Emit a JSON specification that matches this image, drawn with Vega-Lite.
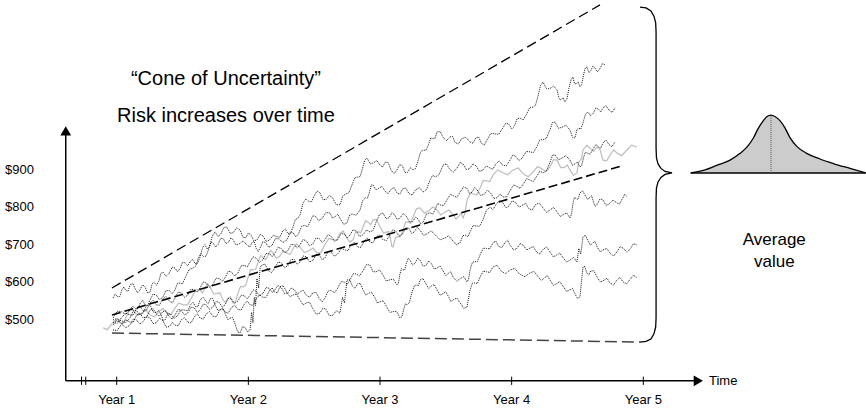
{
"$schema": "https://vega.github.io/schema/vega-lite/v6.json",
"width": 866, "height": 408, "padding": 0, "autosize": {"type": "none"},
"background": "white",
"config": {"view": {"stroke": null}, "text": {"font": "Liberation Sans", "color": "#000"}},
"datasets": {
"paths": [
{"p":"A","x":0.972,"y":558},{"p":"A","x":1.006,"y":562},{"p":"A","x":1.040,"y":580},{"p":"A","x":1.070,"y":578},{"p":"A","x":1.101,"y":593},{"p":"A","x":1.140,"y":583},{"p":"A","x":1.177,"y":580},{"p":"A","x":1.215,"y":588},{"p":"A","x":1.253,"y":574},{"p":"A","x":1.285,"y":600},{"p":"A","x":1.320,"y":603},{"p":"A","x":1.352,"y":627},{"p":"A","x":1.398,"y":624},{"p":"A","x":1.443,"y":638},{"p":"A","x":1.480,"y":636},{"p":"A","x":1.520,"y":652},{"p":"A","x":1.557,"y":654},{"p":"A","x":1.595,"y":650},{"p":"A","x":1.633,"y":667},{"p":"A","x":1.670,"y":700},{"p":"A","x":1.705,"y":695},{"p":"A","x":1.747,"y":734},{"p":"A","x":1.790,"y":728},{"p":"A","x":1.838,"y":747},{"p":"A","x":1.885,"y":732},{"p":"A","x":1.937,"y":739},{"p":"A","x":1.980,"y":718},{"p":"A","x":2.020,"y":726},{"p":"A","x":2.066,"y":713},{"p":"A","x":2.110,"y":724},{"p":"A","x":2.160,"y":712},{"p":"A","x":2.218,"y":721},{"p":"A","x":2.260,"y":736},{"p":"A","x":2.300,"y":730},{"p":"A","x":2.339,"y":747},{"p":"A","x":2.375,"y":770},{"p":"A","x":2.415,"y":811},{"p":"A","x":2.460,"y":815},{"p":"A","x":2.500,"y":830},{"p":"A","x":2.544,"y":838},{"p":"A","x":2.590,"y":820},{"p":"A","x":2.640,"y":825},{"p":"A","x":2.696,"y":806},{"p":"A","x":2.740,"y":835},{"p":"A","x":2.787,"y":859},{"p":"A","x":2.830,"y":880},{"p":"A","x":2.865,"y":900},{"p":"A","x":2.901,"y":931},{"p":"A","x":2.950,"y":918},{"p":"A","x":3.000,"y":912},{"p":"A","x":3.040,"y":920},{"p":"A","x":3.085,"y":898},{"p":"A","x":3.129,"y":899},{"p":"A","x":3.170,"y":910},{"p":"A","x":3.210,"y":893},{"p":"A","x":3.251,"y":899},{"p":"A","x":3.290,"y":925},{"p":"A","x":3.327,"y":952},{"p":"A","x":3.370,"y":968},{"p":"A","x":3.400,"y":982},{"p":"A","x":3.433,"y":1000},{"p":"A","x":3.480,"y":985},{"p":"A","x":3.532,"y":987},{"p":"A","x":3.570,"y":972},{"p":"A","x":3.620,"y":982},{"p":"A","x":3.684,"y":973},{"p":"A","x":3.730,"y":985},{"p":"A","x":3.770,"y":970},{"p":"A","x":3.813,"y":979},{"p":"A","x":3.870,"y":995},{"p":"A","x":3.934,"y":1011},{"p":"A","x":3.980,"y":1020},{"p":"A","x":4.020,"y":1015},{"p":"A","x":4.063,"y":1037},{"p":"A","x":4.110,"y":1045},{"p":"A","x":4.162,"y":1066},{"p":"A","x":4.200,"y":1095},{"p":"A","x":4.238,"y":1133},{"p":"A","x":4.290,"y":1115},{"p":"A","x":4.345,"y":1112},{"p":"A","x":4.375,"y":1085},{"p":"A","x":4.405,"y":1080},{"p":"A","x":4.435,"y":1115},{"p":"A","x":4.466,"y":1146},{"p":"A","x":4.490,"y":1128},{"p":"A","x":4.519,"y":1120},{"p":"A","x":4.545,"y":1150},{"p":"A","x":4.572,"y":1173},{"p":"A","x":4.600,"y":1162},{"p":"A","x":4.633,"y":1170},{"p":"A","x":4.670,"y":1168},{"p":"A","x":4.709,"y":1178},
{"p":"A","x":0.989,"y":569},{"p":"A","x":1.023,"y":562},{"p":"A","x":1.055,"y":588},{"p":"A","x":1.086,"y":576},{"p":"A","x":1.121,"y":597},{"p":"A","x":1.159,"y":572},{"p":"A","x":1.196,"y":593},{"p":"A","x":1.234,"y":572},{"p":"A","x":1.269,"y":596},{"p":"A","x":1.303,"y":592},{"p":"A","x":1.336,"y":624},{"p":"A","x":1.375,"y":616},{"p":"A","x":1.421,"y":640},{"p":"A","x":1.462,"y":628},{"p":"A","x":1.500,"y":653},{"p":"A","x":1.539,"y":644},{"p":"A","x":1.576,"y":661},{"p":"A","x":1.614,"y":650},{"p":"A","x":1.652,"y":692},{"p":"A","x":1.688,"y":688},{"p":"A","x":1.726,"y":723},{"p":"A","x":1.769,"y":722},{"p":"A","x":1.814,"y":746},{"p":"A","x":1.862,"y":730},{"p":"A","x":1.911,"y":745},{"p":"A","x":1.959,"y":720},{"p":"A","x":2.000,"y":731},{"p":"A","x":2.043,"y":710},{"p":"A","x":2.088,"y":727},{"p":"A","x":2.135,"y":709},{"p":"A","x":2.189,"y":725},{"p":"A","x":2.239,"y":720},{"p":"A","x":2.280,"y":742},{"p":"A","x":2.320,"y":730},{"p":"A","x":2.357,"y":767},{"p":"A","x":2.395,"y":781},{"p":"A","x":2.438,"y":822},{"p":"A","x":2.480,"y":814},{"p":"A","x":2.522,"y":843},{"p":"A","x":2.567,"y":820},{"p":"A","x":2.615,"y":831},{"p":"A","x":2.668,"y":806},{"p":"A","x":2.718,"y":830},{"p":"A","x":2.764,"y":838},{"p":"A","x":2.809,"y":878},{"p":"A","x":2.848,"y":881},{"p":"A","x":2.883,"y":924},{"p":"A","x":2.926,"y":915},{"p":"A","x":2.975,"y":924},{"p":"A","x":3.020,"y":907},{"p":"A","x":3.063,"y":918},{"p":"A","x":3.107,"y":889},{"p":"A","x":3.150,"y":913},{"p":"A","x":3.190,"y":892},{"p":"A","x":3.231,"y":905},{"p":"A","x":3.271,"y":903},{"p":"A","x":3.309,"y":947},{"p":"A","x":3.349,"y":951},{"p":"A","x":3.385,"y":984},{"p":"A","x":3.417,"y":982},{"p":"A","x":3.457,"y":1001},{"p":"A","x":3.506,"y":977},{"p":"A","x":3.551,"y":988},{"p":"A","x":3.595,"y":968},{"p":"A","x":3.652,"y":986},{"p":"A","x":3.707,"y":970},{"p":"A","x":3.750,"y":986},{"p":"A","x":3.792,"y":965},{"p":"A","x":3.842,"y":996},{"p":"A","x":3.902,"y":994},{"p":"A","x":3.957,"y":1024},{"p":"A","x":4.000,"y":1008},{"p":"A","x":4.042,"y":1035},{"p":"A","x":4.087,"y":1032},{"p":"A","x":4.136,"y":1064},{"p":"A","x":4.181,"y":1071},{"p":"A","x":4.219,"y":1123},{"p":"A","x":4.264,"y":1115},{"p":"A","x":4.318,"y":1122},{"p":"A","x":4.360,"y":1089},{"p":"A","x":4.390,"y":1091},{"p":"A","x":4.420,"y":1088},{"p":"A","x":4.451,"y":1139},{"p":"A","x":4.478,"y":1128},{"p":"A","x":4.505,"y":1133},{"p":"A","x":4.532,"y":1126},{"p":"A","x":4.559,"y":1170},{"p":"A","x":4.586,"y":1158},{"p":"A","x":4.617,"y":1175},{"p":"A","x":4.652,"y":1160},{"p":"A","x":4.690,"y":1182},
{"p":"B","x":0.972,"y":505},{"p":"B","x":1.035,"y":522},{"p":"B","x":1.101,"y":526},{"p":"B","x":1.140,"y":530},{"p":"B","x":1.180,"y":545},{"p":"B","x":1.215,"y":540},{"p":"B","x":1.253,"y":553},{"p":"B","x":1.300,"y":566},{"p":"B","x":1.350,"y":560},{"p":"B","x":1.400,"y":578},{"p":"B","x":1.443,"y":580},{"p":"B","x":1.480,"y":598},{"p":"B","x":1.520,"y":612},{"p":"B","x":1.580,"y":638},{"p":"B","x":1.620,"y":665},{"p":"B","x":1.660,"y":668},{"p":"B","x":1.700,"y":690},{"p":"B","x":1.731,"y":705},{"p":"B","x":1.770,"y":700},{"p":"B","x":1.810,"y":716},{"p":"B","x":1.850,"y":707},{"p":"B","x":1.883,"y":713},{"p":"B","x":1.930,"y":702},{"p":"B","x":1.990,"y":699},{"p":"B","x":2.030,"y":707},{"p":"B","x":2.060,"y":690},{"p":"B","x":2.089,"y":691},{"p":"B","x":2.130,"y":706},{"p":"B","x":2.180,"y":698},{"p":"B","x":2.230,"y":716},{"p":"B","x":2.294,"y":713},{"p":"B","x":2.340,"y":732},{"p":"B","x":2.380,"y":728},{"p":"B","x":2.430,"y":752},{"p":"B","x":2.468,"y":760},{"p":"B","x":2.510,"y":775},{"p":"B","x":2.560,"y":770},{"p":"B","x":2.620,"y":784},{"p":"B","x":2.660,"y":775},{"p":"B","x":2.700,"y":768},{"p":"B","x":2.749,"y":758},{"p":"B","x":2.790,"y":782},{"p":"B","x":2.848,"y":792},{"p":"B","x":2.890,"y":825},{"p":"B","x":2.920,"y":840},{"p":"B","x":2.947,"y":859},{"p":"B","x":2.990,"y":850},{"p":"B","x":3.040,"y":842},{"p":"B","x":3.085,"y":848},{"p":"B","x":3.129,"y":838},{"p":"B","x":3.170,"y":848},{"p":"B","x":3.220,"y":836},{"p":"B","x":3.270,"y":846},{"p":"B","x":3.327,"y":840},{"p":"B","x":3.380,"y":872},{"p":"B","x":3.420,"y":880},{"p":"B","x":3.479,"y":912},{"p":"B","x":3.530,"y":900},{"p":"B","x":3.585,"y":904},{"p":"B","x":3.630,"y":915},{"p":"B","x":3.680,"y":902},{"p":"B","x":3.730,"y":910},{"p":"B","x":3.780,"y":898},{"p":"B","x":3.836,"y":904},{"p":"B","x":3.880,"y":915},{"p":"B","x":3.930,"y":912},{"p":"B","x":3.988,"y":925},{"p":"B","x":4.030,"y":935},{"p":"B","x":4.080,"y":930},{"p":"B","x":4.139,"y":947},{"p":"B","x":4.190,"y":960},{"p":"B","x":4.238,"y":979},{"p":"B","x":4.290,"y":1005},{"p":"B","x":4.329,"y":1026},{"p":"B","x":4.380,"y":1012},{"p":"B","x":4.443,"y":1005},{"p":"B","x":4.481,"y":984},{"p":"B","x":4.510,"y":1010},{"p":"B","x":4.542,"y":1024},{"p":"B","x":4.580,"y":1053},{"p":"B","x":4.620,"y":1050},{"p":"B","x":4.660,"y":1060},{"p":"B","x":4.694,"y":1064},{"p":"B","x":4.740,"y":1058},{"p":"B","x":4.785,"y":1064},
{"p":"B","x":1.004,"y":523},{"p":"B","x":1.068,"y":515},{"p":"B","x":1.121,"y":537},{"p":"B","x":1.160,"y":529},{"p":"B","x":1.198,"y":552},{"p":"B","x":1.234,"y":538},{"p":"B","x":1.277,"y":569},{"p":"B","x":1.325,"y":554},{"p":"B","x":1.375,"y":578},{"p":"B","x":1.422,"y":570},{"p":"B","x":1.462,"y":598},{"p":"B","x":1.500,"y":596},{"p":"B","x":1.550,"y":634},{"p":"B","x":1.600,"y":643},{"p":"B","x":1.640,"y":676},{"p":"B","x":1.680,"y":670},{"p":"B","x":1.716,"y":707},{"p":"B","x":1.751,"y":694},{"p":"B","x":1.790,"y":717},{"p":"B","x":1.830,"y":703},{"p":"B","x":1.867,"y":719},{"p":"B","x":1.907,"y":699},{"p":"B","x":1.960,"y":710},{"p":"B","x":2.010,"y":694},{"p":"B","x":2.045,"y":708},{"p":"B","x":2.075,"y":682},{"p":"B","x":2.110,"y":708},{"p":"B","x":2.155,"y":693},{"p":"B","x":2.205,"y":716},{"p":"B","x":2.262,"y":706},{"p":"B","x":2.317,"y":732},{"p":"B","x":2.360,"y":721},{"p":"B","x":2.405,"y":749},{"p":"B","x":2.449,"y":747},{"p":"B","x":2.489,"y":777},{"p":"B","x":2.535,"y":764},{"p":"B","x":2.590,"y":786},{"p":"B","x":2.640,"y":771},{"p":"B","x":2.680,"y":781},{"p":"B","x":2.725,"y":754},{"p":"B","x":2.770,"y":779},{"p":"B","x":2.819,"y":778},{"p":"B","x":2.869,"y":818},{"p":"B","x":2.905,"y":824},{"p":"B","x":2.934,"y":859},{"p":"B","x":2.969,"y":846},{"p":"B","x":3.015,"y":855},{"p":"B","x":3.063,"y":836},{"p":"B","x":3.107,"y":852},{"p":"B","x":3.150,"y":834},{"p":"B","x":3.195,"y":851},{"p":"B","x":3.245,"y":832},{"p":"B","x":3.299,"y":852},{"p":"B","x":3.354,"y":847},{"p":"B","x":3.400,"y":885},{"p":"B","x":3.450,"y":887},{"p":"B","x":3.505,"y":915},{"p":"B","x":3.558,"y":893},{"p":"B","x":3.608,"y":919},{"p":"B","x":3.655,"y":900},{"p":"B","x":3.705,"y":915},{"p":"B","x":3.755,"y":895},{"p":"B","x":3.808,"y":910},{"p":"B","x":3.858,"y":901},{"p":"B","x":3.905,"y":923},{"p":"B","x":3.959,"y":910},{"p":"B","x":4.009,"y":939},{"p":"B","x":4.055,"y":924},{"p":"B","x":4.110,"y":948},{"p":"B","x":4.165,"y":945},{"p":"B","x":4.214,"y":979},{"p":"B","x":4.264,"y":983},{"p":"B","x":4.310,"y":1025},{"p":"B","x":4.355,"y":1010},{"p":"B","x":4.412,"y":1018},{"p":"B","x":4.462,"y":986},{"p":"B","x":4.496,"y":1006},{"p":"B","x":4.526,"y":1008},{"p":"B","x":4.561,"y":1048},{"p":"B","x":4.600,"y":1043},{"p":"B","x":4.640,"y":1064},{"p":"B","x":4.677,"y":1053},{"p":"B","x":4.717,"y":1070},{"p":"B","x":4.763,"y":1052},
{"p":"C","x":0.972,"y":494},{"p":"C","x":1.035,"y":505},{"p":"C","x":1.101,"y":513},{"p":"C","x":1.150,"y":530},{"p":"C","x":1.200,"y":525},{"p":"C","x":1.253,"y":545},{"p":"C","x":1.300,"y":540},{"p":"C","x":1.350,"y":556},{"p":"C","x":1.400,"y":550},{"p":"C","x":1.443,"y":558},{"p":"C","x":1.490,"y":572},{"p":"C","x":1.540,"y":566},{"p":"C","x":1.590,"y":580},{"p":"C","x":1.633,"y":585},{"p":"C","x":1.680,"y":598},{"p":"C","x":1.730,"y":594},{"p":"C","x":1.780,"y":610},{"p":"C","x":1.823,"y":612},{"p":"C","x":1.870,"y":628},{"p":"C","x":1.920,"y":624},{"p":"C","x":1.970,"y":645},{"p":"C","x":2.013,"y":654},{"p":"C","x":2.060,"y":664},{"p":"C","x":2.110,"y":660},{"p":"C","x":2.160,"y":676},{"p":"C","x":2.202,"y":678},{"p":"C","x":2.250,"y":690},{"p":"C","x":2.300,"y":684},{"p":"C","x":2.350,"y":700},{"p":"C","x":2.392,"y":699},{"p":"C","x":2.440,"y":710},{"p":"C","x":2.490,"y":702},{"p":"C","x":2.540,"y":716},{"p":"C","x":2.582,"y":713},{"p":"C","x":2.630,"y":722},{"p":"C","x":2.680,"y":714},{"p":"C","x":2.730,"y":728},{"p":"C","x":2.772,"y":726},{"p":"C","x":2.820,"y":736},{"p":"C","x":2.870,"y":726},{"p":"C","x":2.924,"y":734},{"p":"C","x":2.970,"y":760},{"p":"C","x":3.023,"y":784},{"p":"C","x":3.070,"y":772},{"p":"C","x":3.110,"y":780},{"p":"C","x":3.152,"y":771},{"p":"C","x":3.200,"y":776},{"p":"C","x":3.250,"y":762},{"p":"C","x":3.290,"y":768},{"p":"C","x":3.327,"y":760},{"p":"C","x":3.380,"y":785},{"p":"C","x":3.420,"y":795},{"p":"C","x":3.456,"y":806},{"p":"C","x":3.510,"y":820},{"p":"C","x":3.560,"y":830},{"p":"C","x":3.608,"y":840},{"p":"C","x":3.660,"y":850},{"p":"C","x":3.700,"y":840},{"p":"C","x":3.737,"y":846},{"p":"C","x":3.790,"y":834},{"p":"C","x":3.840,"y":838},{"p":"C","x":3.890,"y":825},{"p":"C","x":3.934,"y":827},{"p":"C","x":3.990,"y":845},{"p":"C","x":4.040,"y":855},{"p":"C","x":4.090,"y":862},{"p":"C","x":4.139,"y":872},{"p":"C","x":4.190,"y":882},{"p":"C","x":4.238,"y":891},{"p":"C","x":4.290,"y":918},{"p":"C","x":4.329,"y":939},{"p":"C","x":4.380,"y":930},{"p":"C","x":4.443,"y":925},{"p":"C","x":4.480,"y":915},{"p":"C","x":4.519,"y":907},{"p":"C","x":4.545,"y":930},{"p":"C","x":4.572,"y":944},{"p":"C","x":4.620,"y":955},{"p":"C","x":4.660,"y":960},{"p":"C","x":4.694,"y":971},{"p":"C","x":4.740,"y":966},{"p":"C","x":4.785,"y":973},
{"p":"C","x":1.004,"y":491},{"p":"C","x":1.068,"y":518},{"p":"C","x":1.126,"y":513},{"p":"C","x":1.175,"y":537},{"p":"C","x":1.227,"y":526},{"p":"C","x":1.277,"y":552},{"p":"C","x":1.325,"y":539},{"p":"C","x":1.375,"y":562},{"p":"C","x":1.422,"y":545},{"p":"C","x":1.467,"y":574},{"p":"C","x":1.515,"y":560},{"p":"C","x":1.565,"y":582},{"p":"C","x":1.612,"y":574},{"p":"C","x":1.657,"y":601},{"p":"C","x":1.705,"y":587},{"p":"C","x":1.755,"y":611},{"p":"C","x":1.802,"y":602},{"p":"C","x":1.847,"y":629},{"p":"C","x":1.895,"y":617},{"p":"C","x":1.945,"y":644},{"p":"C","x":1.992,"y":641},{"p":"C","x":2.037,"y":668},{"p":"C","x":2.085,"y":653},{"p":"C","x":2.135,"y":677},{"p":"C","x":2.181,"y":668},{"p":"C","x":2.226,"y":693},{"p":"C","x":2.275,"y":678},{"p":"C","x":2.325,"y":701},{"p":"C","x":2.371,"y":691},{"p":"C","x":2.416,"y":714},{"p":"C","x":2.465,"y":697},{"p":"C","x":2.515,"y":718},{"p":"C","x":2.561,"y":706},{"p":"C","x":2.606,"y":727},{"p":"C","x":2.655,"y":709},{"p":"C","x":2.705,"y":730},{"p":"C","x":2.751,"y":718},{"p":"C","x":2.796,"y":740},{"p":"C","x":2.845,"y":722},{"p":"C","x":2.897,"y":739},{"p":"C","x":2.947,"y":738},{"p":"C","x":2.997,"y":781},{"p":"C","x":3.047,"y":769},{"p":"C","x":3.090,"y":785},{"p":"C","x":3.131,"y":767},{"p":"C","x":3.176,"y":783},{"p":"C","x":3.225,"y":760},{"p":"C","x":3.270,"y":774},{"p":"C","x":3.309,"y":755},{"p":"C","x":3.354,"y":782},{"p":"C","x":3.400,"y":781},{"p":"C","x":3.438,"y":810},{"p":"C","x":3.483,"y":804},{"p":"C","x":3.535,"y":834},{"p":"C","x":3.584,"y":826},{"p":"C","x":3.634,"y":854},{"p":"C","x":3.680,"y":836},{"p":"C","x":3.719,"y":852},{"p":"C","x":3.764,"y":831},{"p":"C","x":3.815,"y":845},{"p":"C","x":3.865,"y":823},{"p":"C","x":3.912,"y":835},{"p":"C","x":3.962,"y":827},{"p":"C","x":4.015,"y":859},{"p":"C","x":4.065,"y":850},{"p":"C","x":4.115,"y":876},{"p":"C","x":4.165,"y":868},{"p":"C","x":4.214,"y":896},{"p":"C","x":4.264,"y":896},{"p":"C","x":4.310,"y":938},{"p":"C","x":4.355,"y":926},{"p":"C","x":4.412,"y":937},{"p":"C","x":4.462,"y":911},{"p":"C","x":4.500,"y":920},{"p":"C","x":4.532,"y":910},{"p":"C","x":4.559,"y":946},{"p":"C","x":4.596,"y":941},{"p":"C","x":4.640,"y":967},{"p":"C","x":4.677,"y":957},{"p":"C","x":4.717,"y":978},{"p":"C","x":4.763,"y":961},
{"p":"D","x":0.972,"y":486},{"p":"D","x":1.035,"y":498},{"p":"D","x":1.101,"y":505},{"p":"D","x":1.150,"y":525},{"p":"D","x":1.200,"y":518},{"p":"D","x":1.253,"y":540},{"p":"D","x":1.300,"y":520},{"p":"D","x":1.340,"y":512},{"p":"D","x":1.367,"y":500},{"p":"D","x":1.410,"y":515},{"p":"D","x":1.460,"y":510},{"p":"D","x":1.519,"y":526},{"p":"D","x":1.560,"y":540},{"p":"D","x":1.600,"y":535},{"p":"D","x":1.633,"y":553},{"p":"D","x":1.680,"y":548},{"p":"D","x":1.710,"y":556},{"p":"D","x":1.747,"y":540},{"p":"D","x":1.790,"y":528},{"p":"D","x":1.830,"y":512},{"p":"D","x":1.861,"y":505},{"p":"D","x":1.900,"y":488},{"p":"D","x":1.937,"y":465},{"p":"D","x":1.975,"y":480},{"p":"D","x":2.013,"y":473},{"p":"D","x":2.025,"y":520},{"p":"D","x":2.035,"y":492},{"p":"D","x":2.045,"y":560},{"p":"D","x":2.055,"y":538},{"p":"D","x":2.065,"y":610},{"p":"D","x":2.078,"y":585},{"p":"D","x":2.090,"y":640},{"p":"D","x":2.104,"y":646},{"p":"D","x":2.150,"y":632},{"p":"D","x":2.202,"y":638},{"p":"D","x":2.250,"y":652},{"p":"D","x":2.300,"y":644},{"p":"D","x":2.350,"y":660},{"p":"D","x":2.392,"y":654},{"p":"D","x":2.440,"y":668},{"p":"D","x":2.490,"y":658},{"p":"D","x":2.540,"y":672},{"p":"D","x":2.582,"y":665},{"p":"D","x":2.630,"y":680},{"p":"D","x":2.680,"y":676},{"p":"D","x":2.734,"y":686},{"p":"D","x":2.780,"y":700},{"p":"D","x":2.830,"y":694},{"p":"D","x":2.880,"y":710},{"p":"D","x":2.924,"y":707},{"p":"D","x":2.970,"y":720},{"p":"D","x":3.020,"y":714},{"p":"D","x":3.076,"y":726},{"p":"D","x":3.120,"y":736},{"p":"D","x":3.170,"y":728},{"p":"D","x":3.220,"y":744},{"p":"D","x":3.260,"y":734},{"p":"D","x":3.304,"y":739},{"p":"D","x":3.357,"y":729},{"p":"D","x":3.420,"y":726},{"p":"D","x":3.494,"y":718},{"p":"D","x":3.550,"y":712},{"p":"D","x":3.608,"y":705},{"p":"D","x":3.650,"y":725},{"p":"D","x":3.684,"y":734},{"p":"D","x":3.730,"y":750},{"p":"D","x":3.782,"y":766},{"p":"D","x":3.836,"y":800},{"p":"D","x":3.880,"y":806},{"p":"D","x":3.934,"y":811},{"p":"D","x":3.980,"y":803},{"p":"D","x":4.030,"y":812},{"p":"D","x":4.086,"y":806},{"p":"D","x":4.130,"y":796},{"p":"D","x":4.180,"y":806},{"p":"D","x":4.238,"y":798},{"p":"D","x":4.290,"y":792},{"p":"D","x":4.345,"y":787},{"p":"D","x":4.390,"y":780},{"p":"D","x":4.443,"y":771},{"p":"D","x":4.466,"y":811},{"p":"D","x":4.490,"y":822},{"p":"D","x":4.519,"y":838},{"p":"D","x":4.560,"y":830},{"p":"D","x":4.595,"y":827},{"p":"D","x":4.620,"y":815},{"p":"D","x":4.648,"y":806},{"p":"D","x":4.694,"y":819},{"p":"D","x":4.740,"y":808},{"p":"D","x":4.800,"y":811},{"p":"D","x":4.840,"y":822},{"p":"D","x":4.876,"y":827},
{"p":"D","x":1.004,"y":501},{"p":"D","x":1.068,"y":493},{"p":"D","x":1.126,"y":524},{"p":"D","x":1.175,"y":513},{"p":"D","x":1.227,"y":538},{"p":"D","x":1.277,"y":521},{"p":"D","x":1.320,"y":525},{"p":"D","x":1.354,"y":497},{"p":"D","x":1.389,"y":517},{"p":"D","x":1.435,"y":504},{"p":"D","x":1.490,"y":527},{"p":"D","x":1.540,"y":524},{"p":"D","x":1.580,"y":547},{"p":"D","x":1.617,"y":535},{"p":"D","x":1.657,"y":560},{"p":"D","x":1.695,"y":543},{"p":"D","x":1.729,"y":557},{"p":"D","x":1.769,"y":525},{"p":"D","x":1.810,"y":529},{"p":"D","x":1.846,"y":500},{"p":"D","x":1.881,"y":506},{"p":"D","x":1.919,"y":468},{"p":"D","x":1.956,"y":482},{"p":"D","x":1.994,"y":468},{"p":"D","x":2.127,"y":648},{"p":"D","x":2.176,"y":626},{"p":"D","x":2.226,"y":654},{"p":"D","x":2.275,"y":639},{"p":"D","x":2.325,"y":661},{"p":"D","x":2.371,"y":648},{"p":"D","x":2.416,"y":670},{"p":"D","x":2.465,"y":654},{"p":"D","x":2.515,"y":674},{"p":"D","x":2.561,"y":660},{"p":"D","x":2.606,"y":682},{"p":"D","x":2.655,"y":669},{"p":"D","x":2.707,"y":690},{"p":"D","x":2.757,"y":684},{"p":"D","x":2.805,"y":706},{"p":"D","x":2.855,"y":693},{"p":"D","x":2.902,"y":718},{"p":"D","x":2.947,"y":705},{"p":"D","x":2.995,"y":726},{"p":"D","x":3.048,"y":711},{"p":"D","x":3.098,"y":740},{"p":"D","x":3.145,"y":723},{"p":"D","x":3.195,"y":745},{"p":"D","x":3.240,"y":730},{"p":"D","x":3.282,"y":746},{"p":"D","x":3.331,"y":725},{"p":"D","x":3.389,"y":737},{"p":"D","x":3.457,"y":713},{"p":"D","x":3.522,"y":724},{"p":"D","x":3.579,"y":700},{"p":"D","x":3.629,"y":724},{"p":"D","x":3.667,"y":721},{"p":"D","x":3.707,"y":751},{"p":"D","x":3.756,"y":749},{"p":"D","x":3.809,"y":792},{"p":"D","x":3.858,"y":794},{"p":"D","x":3.907,"y":818},{"p":"D","x":3.957,"y":798},{"p":"D","x":4.005,"y":817},{"p":"D","x":4.058,"y":800},{"p":"D","x":4.108,"y":810},{"p":"D","x":4.155,"y":792},{"p":"D","x":4.209,"y":811},{"p":"D","x":4.264,"y":786},{"p":"D","x":4.318,"y":799},{"p":"D","x":4.368,"y":775},{"p":"D","x":4.417,"y":785},{"p":"D","x":4.455,"y":782},{"p":"D","x":4.478,"y":826},{"p":"D","x":4.505,"y":821},{"p":"D","x":4.540,"y":843},{"p":"D","x":4.578,"y":820},{"p":"D","x":4.608,"y":830},{"p":"D","x":4.634,"y":802},{"p":"D","x":4.671,"y":822},{"p":"D","x":4.717,"y":805},{"p":"D","x":4.770,"y":819},{"p":"D","x":4.820,"y":808},{"p":"D","x":4.858,"y":834},
{"p":"E","x":0.972,"y":473},{"p":"E","x":1.035,"y":488},{"p":"E","x":1.101,"y":494},{"p":"E","x":1.150,"y":512},{"p":"E","x":1.200,"y":506},{"p":"E","x":1.253,"y":526},{"p":"E","x":1.300,"y":516},{"p":"E","x":1.350,"y":522},{"p":"E","x":1.400,"y":508},{"p":"E","x":1.443,"y":513},{"p":"E","x":1.490,"y":525},{"p":"E","x":1.540,"y":518},{"p":"E","x":1.590,"y":532},{"p":"E","x":1.633,"y":526},{"p":"E","x":1.680,"y":540},{"p":"E","x":1.730,"y":534},{"p":"E","x":1.780,"y":546},{"p":"E","x":1.823,"y":540},{"p":"E","x":1.870,"y":556},{"p":"E","x":1.920,"y":550},{"p":"E","x":1.970,"y":564},{"p":"E","x":2.013,"y":566},{"p":"E","x":2.060,"y":576},{"p":"E","x":2.110,"y":570},{"p":"E","x":2.160,"y":584},{"p":"E","x":2.202,"y":580},{"p":"E","x":2.250,"y":586},{"p":"E","x":2.300,"y":572},{"p":"E","x":2.350,"y":580},{"p":"E","x":2.392,"y":574},{"p":"E","x":2.440,"y":566},{"p":"E","x":2.490,"y":572},{"p":"E","x":2.540,"y":556},{"p":"E","x":2.582,"y":558},{"p":"E","x":2.630,"y":578},{"p":"E","x":2.680,"y":585},{"p":"E","x":2.730,"y":600},{"p":"E","x":2.772,"y":606},{"p":"E","x":2.820,"y":622},{"p":"E","x":2.870,"y":630},{"p":"E","x":2.924,"y":646},{"p":"E","x":2.970,"y":628},{"p":"E","x":3.023,"y":619},{"p":"E","x":3.070,"y":606},{"p":"E","x":3.129,"y":593},{"p":"E","x":3.150,"y":620},{"p":"E","x":3.175,"y":633},{"p":"E","x":3.200,"y":650},{"p":"E","x":3.228,"y":659},{"p":"E","x":3.265,"y":650},{"p":"E","x":3.304,"y":659},{"p":"E","x":3.350,"y":645},{"p":"E","x":3.390,"y":650},{"p":"E","x":3.433,"y":638},{"p":"E","x":3.480,"y":630},{"p":"E","x":3.520,"y":624},{"p":"E","x":3.555,"y":614},{"p":"E","x":3.610,"y":610},{"p":"E","x":3.661,"y":601},{"p":"E","x":3.684,"y":633},{"p":"E","x":3.720,"y":655},{"p":"E","x":3.760,"y":673},{"p":"E","x":3.810,"y":690},{"p":"E","x":3.858,"y":705},{"p":"E","x":3.900,"y":696},{"p":"E","x":3.950,"y":706},{"p":"E","x":3.988,"y":699},{"p":"E","x":4.040,"y":690},{"p":"E","x":4.090,"y":698},{"p":"E","x":4.139,"y":691},{"p":"E","x":4.190,"y":680},{"p":"E","x":4.240,"y":688},{"p":"E","x":4.291,"y":681},{"p":"E","x":4.340,"y":672},{"p":"E","x":4.390,"y":666},{"p":"E","x":4.443,"y":659},{"p":"E","x":4.496,"y":654},{"p":"E","x":4.510,"y":690},{"p":"E","x":4.525,"y":675},{"p":"E","x":4.542,"y":721},{"p":"E","x":4.580,"y":710},{"p":"E","x":4.618,"y":705},{"p":"E","x":4.650,"y":694},{"p":"E","x":4.694,"y":686},{"p":"E","x":4.750,"y":676},{"p":"E","x":4.800,"y":681},{"p":"E","x":4.850,"y":690},{"p":"E","x":4.900,"y":688},{"p":"E","x":4.952,"y":699},
{"p":"E","x":1.004,"y":472},{"p":"E","x":1.068,"y":500},{"p":"E","x":1.126,"y":494},{"p":"E","x":1.175,"y":518},{"p":"E","x":1.227,"y":507},{"p":"E","x":1.277,"y":530},{"p":"E","x":1.325,"y":510},{"p":"E","x":1.375,"y":524},{"p":"E","x":1.422,"y":502},{"p":"E","x":1.467,"y":528},{"p":"E","x":1.515,"y":513},{"p":"E","x":1.565,"y":534},{"p":"E","x":1.612,"y":520},{"p":"E","x":1.657,"y":542},{"p":"E","x":1.705,"y":528},{"p":"E","x":1.755,"y":549},{"p":"E","x":1.802,"y":534},{"p":"E","x":1.847,"y":557},{"p":"E","x":1.895,"y":544},{"p":"E","x":1.945,"y":566},{"p":"E","x":1.992,"y":556},{"p":"E","x":2.037,"y":580},{"p":"E","x":2.085,"y":564},{"p":"E","x":2.135,"y":586},{"p":"E","x":2.181,"y":573},{"p":"E","x":2.226,"y":592},{"p":"E","x":2.275,"y":570},{"p":"E","x":2.325,"y":585},{"p":"E","x":2.371,"y":568},{"p":"E","x":2.416,"y":579},{"p":"E","x":2.465,"y":560},{"p":"E","x":2.515,"y":573},{"p":"E","x":2.561,"y":548},{"p":"E","x":2.606,"y":577},{"p":"E","x":2.655,"y":572},{"p":"E","x":2.705,"y":602},{"p":"E","x":2.751,"y":594},{"p":"E","x":2.796,"y":623},{"p":"E","x":2.845,"y":617},{"p":"E","x":2.897,"y":647},{"p":"E","x":2.947,"y":628},{"p":"E","x":2.997,"y":633},{"p":"E","x":3.047,"y":604},{"p":"E","x":3.100,"y":609},{"p":"E","x":3.140,"y":598},{"p":"E","x":3.163,"y":636},{"p":"E","x":3.188,"y":633},{"p":"E","x":3.214,"y":664},{"p":"E","x":3.247,"y":646},{"p":"E","x":3.285,"y":664},{"p":"E","x":3.327,"y":643},{"p":"E","x":3.370,"y":657},{"p":"E","x":3.412,"y":635},{"p":"E","x":3.457,"y":643},{"p":"E","x":3.500,"y":618},{"p":"E","x":3.538,"y":628},{"p":"E","x":3.583,"y":603},{"p":"E","x":3.636,"y":615},{"p":"E","x":3.673,"y":608},{"p":"E","x":3.702,"y":653},{"p":"E","x":3.740,"y":655},{"p":"E","x":3.785,"y":691},{"p":"E","x":3.834,"y":689},{"p":"E","x":3.879,"y":710},{"p":"E","x":3.925,"y":692},{"p":"E","x":3.969,"y":712},{"p":"E","x":4.014,"y":686},{"p":"E","x":4.065,"y":703},{"p":"E","x":4.115,"y":686},{"p":"E","x":4.165,"y":695},{"p":"E","x":4.215,"y":675},{"p":"E","x":4.266,"y":694},{"p":"E","x":4.316,"y":668},{"p":"E","x":4.365,"y":678},{"p":"E","x":4.417,"y":654},{"p":"E","x":4.470,"y":666},{"p":"E","x":4.561,"y":725},{"p":"E","x":4.599,"y":699},{"p":"E","x":4.634,"y":709},{"p":"E","x":4.672,"y":681},{"p":"E","x":4.722,"y":690},{"p":"E","x":4.775,"y":670},{"p":"E","x":4.825,"y":695},{"p":"E","x":4.875,"y":680},{"p":"E","x":4.926,"y":703},
{"p":"F","x":0.972,"y":500},{"p":"F","x":1.035,"y":490},{"p":"F","x":1.101,"y":486},{"p":"F","x":1.150,"y":500},{"p":"F","x":1.200,"y":495},{"p":"F","x":1.253,"y":505},{"p":"F","x":1.300,"y":492},{"p":"F","x":1.350,"y":498},{"p":"F","x":1.400,"y":482},{"p":"F","x":1.443,"y":486},{"p":"F","x":1.490,"y":500},{"p":"F","x":1.540,"y":494},{"p":"F","x":1.590,"y":508},{"p":"F","x":1.633,"y":505},{"p":"F","x":1.680,"y":516},{"p":"F","x":1.730,"y":510},{"p":"F","x":1.780,"y":524},{"p":"F","x":1.823,"y":521},{"p":"F","x":1.870,"y":532},{"p":"F","x":1.920,"y":528},{"p":"F","x":1.970,"y":542},{"p":"F","x":2.013,"y":540},{"p":"F","x":2.060,"y":556},{"p":"F","x":2.110,"y":560},{"p":"F","x":2.160,"y":578},{"p":"F","x":2.200,"y":574},{"p":"F","x":2.240,"y":588},{"p":"F","x":2.290,"y":575},{"p":"F","x":2.340,"y":566},{"p":"F","x":2.392,"y":553},{"p":"F","x":2.440,"y":545},{"p":"F","x":2.490,"y":530},{"p":"F","x":2.544,"y":518},{"p":"F","x":2.590,"y":528},{"p":"F","x":2.640,"y":512},{"p":"F","x":2.696,"y":518},{"p":"F","x":2.715,"y":560},{"p":"F","x":2.730,"y":545},{"p":"F","x":2.749,"y":606},{"p":"F","x":2.790,"y":590},{"p":"F","x":2.830,"y":596},{"p":"F","x":2.871,"y":580},{"p":"F","x":2.910,"y":570},{"p":"F","x":2.960,"y":560},{"p":"F","x":3.000,"y":548},{"p":"F","x":3.050,"y":535},{"p":"F","x":3.100,"y":522},{"p":"F","x":3.152,"y":505},{"p":"F","x":3.180,"y":528},{"p":"F","x":3.205,"y":540},{"p":"F","x":3.240,"y":570},{"p":"F","x":3.281,"y":593},{"p":"F","x":3.304,"y":606},{"p":"F","x":3.350,"y":595},{"p":"F","x":3.390,"y":590},{"p":"F","x":3.433,"y":580},{"p":"F","x":3.480,"y":570},{"p":"F","x":3.520,"y":562},{"p":"F","x":3.555,"y":553},{"p":"F","x":3.610,"y":545},{"p":"F","x":3.661,"y":534},{"p":"F","x":3.684,"y":580},{"p":"F","x":3.720,"y":598},{"p":"F","x":3.760,"y":614},{"p":"F","x":3.810,"y":628},{"p":"F","x":3.858,"y":641},{"p":"F","x":3.920,"y":630},{"p":"F","x":3.988,"y":633},{"p":"F","x":4.060,"y":622},{"p":"F","x":4.139,"y":625},{"p":"F","x":4.200,"y":615},{"p":"F","x":4.250,"y":612},{"p":"F","x":4.291,"y":606},{"p":"F","x":4.340,"y":596},{"p":"F","x":4.390,"y":590},{"p":"F","x":4.443,"y":580},{"p":"F","x":4.480,"y":570},{"p":"F","x":4.519,"y":561},{"p":"F","x":4.530,"y":600},{"p":"F","x":4.542,"y":641},{"p":"F","x":4.570,"y":625},{"p":"F","x":4.600,"y":630},{"p":"F","x":4.648,"y":614},{"p":"F","x":4.700,"y":605},{"p":"F","x":4.747,"y":598},{"p":"F","x":4.800,"y":606},{"p":"F","x":4.846,"y":601},{"p":"F","x":4.900,"y":608},{"p":"F","x":4.952,"y":612},
{"p":"F","x":1.004,"y":504},{"p":"F","x":1.068,"y":479},{"p":"F","x":1.126,"y":502},{"p":"F","x":1.175,"y":489},{"p":"F","x":1.227,"y":509},{"p":"F","x":1.277,"y":490},{"p":"F","x":1.325,"y":504},{"p":"F","x":1.375,"y":481},{"p":"F","x":1.422,"y":493},{"p":"F","x":1.467,"y":484},{"p":"F","x":1.515,"y":506},{"p":"F","x":1.565,"y":492},{"p":"F","x":1.612,"y":516},{"p":"F","x":1.657,"y":502},{"p":"F","x":1.705,"y":522},{"p":"F","x":1.755,"y":508},{"p":"F","x":1.802,"y":532},{"p":"F","x":1.847,"y":518},{"p":"F","x":1.895,"y":539},{"p":"F","x":1.945,"y":526},{"p":"F","x":1.992,"y":550},{"p":"F","x":2.037,"y":539},{"p":"F","x":2.085,"y":567},{"p":"F","x":2.135,"y":560},{"p":"F","x":2.180,"y":585},{"p":"F","x":2.220,"y":572},{"p":"F","x":2.265,"y":591},{"p":"F","x":2.315,"y":562},{"p":"F","x":2.366,"y":569},{"p":"F","x":2.416,"y":540},{"p":"F","x":2.465,"y":547},{"p":"F","x":2.517,"y":515},{"p":"F","x":2.567,"y":532},{"p":"F","x":2.615,"y":511},{"p":"F","x":2.668,"y":524},{"p":"F","x":2.770,"y":607},{"p":"F","x":2.810,"y":584},{"p":"F","x":2.851,"y":597},{"p":"F","x":2.891,"y":566},{"p":"F","x":2.935,"y":574},{"p":"F","x":2.980,"y":545},{"p":"F","x":3.025,"y":551},{"p":"F","x":3.075,"y":520},{"p":"F","x":3.126,"y":523},{"p":"F","x":3.166,"y":508},{"p":"F","x":3.193,"y":543},{"p":"F","x":3.223,"y":546},{"p":"F","x":3.261,"y":591},{"p":"F","x":3.293,"y":591},{"p":"F","x":3.327,"y":610},{"p":"F","x":3.370,"y":584},{"p":"F","x":3.412,"y":594},{"p":"F","x":3.457,"y":566},{"p":"F","x":3.500,"y":575},{"p":"F","x":3.538,"y":549},{"p":"F","x":3.583,"y":558},{"p":"F","x":3.636,"y":531},{"p":"F","x":3.702,"y":598},{"p":"F","x":3.740,"y":597},{"p":"F","x":3.785,"y":630},{"p":"F","x":3.834,"y":626},{"p":"F","x":3.889,"y":645},{"p":"F","x":3.954,"y":623},{"p":"F","x":4.024,"y":637},{"p":"F","x":4.100,"y":615},{"p":"F","x":4.170,"y":629},{"p":"F","x":4.225,"y":605},{"p":"F","x":4.271,"y":618},{"p":"F","x":4.316,"y":592},{"p":"F","x":4.365,"y":602},{"p":"F","x":4.417,"y":576},{"p":"F","x":4.462,"y":584},{"p":"F","x":4.500,"y":557},{"p":"F","x":4.556,"y":642},{"p":"F","x":4.585,"y":619},{"p":"F","x":4.624,"y":631},{"p":"F","x":4.674,"y":601},{"p":"F","x":4.724,"y":611},{"p":"F","x":4.774,"y":593},{"p":"F","x":4.823,"y":613},{"p":"F","x":4.873,"y":596},{"p":"F","x":4.926,"y":619},
{"p":"G","x":0.896,"y":479},{"p":"G","x":0.960,"y":488},{"p":"G","x":1.025,"y":492},{"p":"G","x":1.075,"y":510},{"p":"G","x":1.124,"y":526},{"p":"G","x":1.190,"y":518},{"p":"G","x":1.253,"y":513},{"p":"G","x":1.320,"y":522},{"p":"G","x":1.382,"y":518},{"p":"G","x":1.440,"y":530},{"p":"G","x":1.504,"y":540},{"p":"G","x":1.570,"y":560},{"p":"G","x":1.633,"y":580},{"p":"G","x":1.670,"y":584},{"p":"G","x":1.709,"y":588},{"p":"G","x":1.760,"y":570},{"p":"G","x":1.807,"y":553},{"p":"G","x":1.845,"y":558},{"p":"G","x":1.883,"y":545},{"p":"G","x":1.920,"y":570},{"p":"G","x":1.959,"y":588},{"p":"G","x":2.000,"y":615},{"p":"G","x":2.035,"y":633},{"p":"G","x":2.075,"y":655},{"p":"G","x":2.111,"y":667},{"p":"G","x":2.150,"y":672},{"p":"G","x":2.187,"y":678},{"p":"G","x":2.240,"y":670},{"p":"G","x":2.294,"y":678},{"p":"G","x":2.340,"y":690},{"p":"G","x":2.392,"y":694},{"p":"G","x":2.460,"y":684},{"p":"G","x":2.521,"y":678},{"p":"G","x":2.580,"y":700},{"p":"G","x":2.643,"y":713},{"p":"G","x":2.696,"y":731},{"p":"G","x":2.745,"y":720},{"p":"G","x":2.795,"y":713},{"p":"G","x":2.835,"y":735},{"p":"G","x":2.871,"y":747},{"p":"G","x":2.910,"y":760},{"p":"G","x":2.947,"y":766},{"p":"G","x":3.000,"y":748},{"p":"G","x":3.053,"y":734},{"p":"G","x":3.080,"y":715},{"p":"G","x":3.099,"y":694},{"p":"G","x":3.135,"y":722},{"p":"G","x":3.175,"y":739},{"p":"G","x":3.215,"y":760},{"p":"G","x":3.251,"y":774},{"p":"G","x":3.304,"y":798},{"p":"G","x":3.370,"y":790},{"p":"G","x":3.433,"y":792},{"p":"G","x":3.490,"y":786},{"p":"G","x":3.555,"y":779},{"p":"G","x":3.600,"y":776},{"p":"G","x":3.631,"y":771},{"p":"G","x":3.661,"y":819},{"p":"G","x":3.710,"y":835},{"p":"G","x":3.760,"y":851},{"p":"G","x":3.810,"y":870},{"p":"G","x":3.858,"y":885},{"p":"G","x":3.930,"y":892},{"p":"G","x":4.010,"y":899},{"p":"G","x":4.090,"y":888},{"p":"G","x":4.162,"y":893},{"p":"G","x":4.230,"y":902},{"p":"G","x":4.291,"y":907},{"p":"G","x":4.345,"y":925},{"p":"G","x":4.400,"y":905},{"p":"G","x":4.443,"y":899},{"p":"G","x":4.496,"y":891},{"p":"G","x":4.520,"y":925},{"p":"G","x":4.542,"y":952},{"p":"G","x":4.600,"y":955},{"p":"G","x":4.648,"y":960},{"p":"G","x":4.694,"y":925},{"p":"G","x":4.750,"y":940},{"p":"G","x":4.800,"y":944},{"p":"G","x":4.870,"y":950},{"p":"G","x":4.952,"y":960},
{"p":"G","x":0.928,"y":474},{"p":"G","x":0.993,"y":500},{"p":"G","x":1.050,"y":491},{"p":"G","x":1.100,"y":528},{"p":"G","x":1.157,"y":512},{"p":"G","x":1.222,"y":526},{"p":"G","x":1.287,"y":508},{"p":"G","x":1.351,"y":530},{"p":"G","x":1.411,"y":514},{"p":"G","x":1.472,"y":545},{"p":"G","x":1.537,"y":540},{"p":"G","x":1.602,"y":580},{"p":"G","x":1.652,"y":572},{"p":"G","x":1.690,"y":596},{"p":"G","x":1.735,"y":569},{"p":"G","x":1.784,"y":572},{"p":"G","x":1.826,"y":546},{"p":"G","x":1.864,"y":562},{"p":"G","x":1.902,"y":548},{"p":"G","x":1.940,"y":589},{"p":"G","x":1.980,"y":592},{"p":"G","x":2.018,"y":634},{"p":"G","x":2.055,"y":634},{"p":"G","x":2.093,"y":671},{"p":"G","x":2.131,"y":660},{"p":"G","x":2.169,"y":685},{"p":"G","x":2.214,"y":664},{"p":"G","x":2.267,"y":684},{"p":"G","x":2.317,"y":674},{"p":"G","x":2.366,"y":702},{"p":"G","x":2.426,"y":679},{"p":"G","x":2.491,"y":691},{"p":"G","x":2.551,"y":679},{"p":"G","x":2.612,"y":717},{"p":"G","x":2.670,"y":712},{"p":"G","x":2.721,"y":736},{"p":"G","x":2.770,"y":707},{"p":"G","x":2.815,"y":734},{"p":"G","x":2.853,"y":731},{"p":"G","x":2.891,"y":764},{"p":"G","x":2.929,"y":753},{"p":"G","x":2.974,"y":767},{"p":"G","x":3.027,"y":731},{"p":"G","x":3.067,"y":735},{"p":"G","x":3.090,"y":695},{"p":"G","x":3.117,"y":718},{"p":"G","x":3.155,"y":721},{"p":"G","x":3.195,"y":760},{"p":"G","x":3.233,"y":757},{"p":"G","x":3.278,"y":796},{"p":"G","x":3.337,"y":784},{"p":"G","x":3.402,"y":801},{"p":"G","x":3.462,"y":779},{"p":"G","x":3.523,"y":793},{"p":"G","x":3.578,"y":768},{"p":"G","x":3.616,"y":784},{"p":"G","x":3.646,"y":785},{"p":"G","x":3.686,"y":837},{"p":"G","x":3.735,"y":833},{"p":"G","x":3.785,"y":871},{"p":"G","x":3.834,"y":868},{"p":"G","x":3.894,"y":899},{"p":"G","x":3.970,"y":886},{"p":"G","x":4.050,"y":904},{"p":"G","x":4.126,"y":881},{"p":"G","x":4.196,"y":908},{"p":"G","x":4.261,"y":895},{"p":"G","x":4.318,"y":926},{"p":"G","x":4.373,"y":905},{"p":"G","x":4.422,"y":912},{"p":"G","x":4.470,"y":885},{"p":"G","x":4.508,"y":918},{"p":"G","x":4.531,"y":929},{"p":"G","x":4.571,"y":964},{"p":"G","x":4.624,"y":948},{"p":"G","x":4.671,"y":953},{"p":"G","x":4.722,"y":923},{"p":"G","x":4.775,"y":952},{"p":"G","x":4.835,"y":937},{"p":"G","x":4.911,"y":965}
],
"bell": [
{"x":5.360,"y":891,"base":891},{"x":5.469,"y":899,"base":891},{"x":5.558,"y":911,"base":891},{"x":5.659,"y":925,"base":891},{"x":5.735,"y":943,"base":891},{"x":5.795,"y":963,"base":891},{"x":5.836,"y":984,"base":891},{"x":5.871,"y":1008,"base":891},{"x":5.912,"y":1030,"base":891},{"x":5.940,"y":1041,"base":891},{"x":5.970,"y":1045,"base":891},{"x":6.000,"y":1041,"base":891},{"x":6.038,"y":1030,"base":891},{"x":6.076,"y":1011,"base":891},{"x":6.114,"y":985,"base":891},{"x":6.168,"y":961,"base":891},{"x":6.241,"y":943,"base":891},{"x":6.342,"y":928,"base":891},{"x":6.443,"y":916,"base":891},{"x":6.570,"y":903,"base":891},{"x":6.689,"y":891,"base":891}
],
"brace": [
{"o":1,"x":4.975,"y":1332},{"o":2,"x":5.021,"y":1330},{"o":3,"x":5.058,"y":1322},{"o":4,"x":5.081,"y":1308},{"o":5,"x":5.094,"y":1290},{"o":6,"x":5.097,"y":1266},{"o":7,"x":5.097,"y":957},{"o":8,"x":5.100,"y":931},{"o":9,"x":5.112,"y":915},{"o":10,"x":5.134,"y":903},{"o":11,"x":5.165,"y":895},{"o":12,"x":5.218,"y":891},{"o":13,"x":5.165,"y":887},{"o":14,"x":5.134,"y":879},{"o":15,"x":5.112,"y":867},{"o":16,"x":5.100,"y":851},{"o":17,"x":5.097,"y":824},{"o":18,"x":5.097,"y":505},{"o":19,"x":5.094,"y":481},{"o":20,"x":5.081,"y":463},{"o":21,"x":5.058,"y":449},{"o":22,"x":5.021,"y":443},{"o":23,"x":4.975,"y":441}
]
},
"encoding": {
"x": {"field": "x", "type": "quantitative", "scale": {"domain": [0.1136, 6.6916], "nice": false, "zero": false}, "axis": null},
"y": {"field": "y", "type": "quantitative", "scale": {"domain": [265.6, 1351], "nice": false, "zero": false}, "axis": null}
},
"layer": [
{"data": {"name": "bell"}, "mark": {"type": "area", "color": "#cccccc", "interpolate": "monotone"}, "encoding": {"y2": {"field": "base"}}},
{"data": {"name": "bell"}, "mark": {"type": "line", "color": "#000", "strokeWidth": 1.3, "interpolate": "monotone"}, "encoding": {}},
{"data": {"values": [{"x": 5.360, "y": 891, "x2": 6.689}]}, "mark": {"type": "rule", "color": "#000", "strokeWidth": 1.5}, "encoding": {"x2": {"field": "x2"}}},
{"data": {"values": [{"x": 5.970, "y": 891, "y2": 1045}]}, "mark": {"type": "rule", "color": "#555", "strokeWidth": 1, "strokeDash": [1, 1]}, "encoding": {"y2": {"field": "y2"}}},
{"data": {"name": "brace"}, "mark": {"type": "line", "color": "#000", "strokeWidth": 1.3}, "encoding": {"order": {"field": "o", "type": "quantitative"}}},
{"data": {"name": "paths"}, "transform": [{"filter": "datum.p == 'G'"}], "mark": {"type": "line", "color": "#bdbdbd", "strokeWidth": 1.2}, "encoding": {}},
{"data": {"name": "paths"}, "transform": [{"filter": "datum.p != 'G'"}], "mark": {"type": "line", "color": "#000", "strokeWidth": 0.9, "strokeDash": [1, 1]}, "encoding": {"detail": {"field": "p"}}},
{"data": {"values": [{"x": 0.964, "y": 513}, {"x": 4.831, "y": 909}]}, "mark": {"type": "line", "color": "#000", "strokeWidth": 1.6, "strokeDash": [9, 4]}, "encoding": {}},
{"data": {"values": [{"x": 0.964, "y": 585}, {"x": 4.671, "y": 1338}]}, "mark": {"type": "line", "color": "#000", "strokeWidth": 1.3, "strokeDash": [10, 5]}, "encoding": {}},
{"data": {"values": [{"x": 0.964, "y": 465}, {"x": 4.975, "y": 441}]}, "mark": {"type": "line", "color": "#444", "strokeWidth": 1.5, "strokeDash": [12, 5]}, "encoding": {}},
{"data": {"values": [{"x": 0.613, "y": 338, "x2": 5.40, "y2": 338}, {"x": 0.613, "y": 338, "x2": 0.613, "y2": 1000}]}, "mark": {"type": "rule", "color": "#000", "strokeWidth": 1.5}, "encoding": {"x2": {"field": "x2"}, "y2": {"field": "y2"}}},
{"data": {"values": [{"x": 1, "y": 327, "y2": 349}, {"x": 2, "y": 327, "y2": 349}, {"x": 3, "y": 327, "y2": 349}, {"x": 4, "y": 327, "y2": 349}, {"x": 5, "y": 327, "y2": 349}, {"x": 0.733, "y": 327, "y2": 349}, {"x": 0.765, "y": 327, "y2": 349}]}, "mark": {"type": "rule", "color": "#000", "strokeWidth": 1}, "encoding": {"y2": {"field": "y2"}}},
{"data": {"values": [{"x": 0.613, "y": 1003, "s": "triangle-up"}, {"x": 5.418, "y": 338, "s": "triangle-right"}]}, "mark": {"type": "point", "filled": true, "color": "#000", "size": 115, "opacity": 1}, "encoding": {"shape": {"field": "s", "type": "nominal", "scale": null, "legend": null}}},
{"data": {"values": [{"x": 0.1516, "y": 900, "label": "$900"}, {"x": 0.1516, "y": 800, "label": "$800"}, {"x": 0.1516, "y": 700, "label": "$700"}, {"x": 0.1516, "y": 600, "label": "$600"}, {"x": 0.1516, "y": 500, "label": "$500"}]}, "mark": {"type": "text", "align": "left", "baseline": "middle", "fontSize": 13}, "encoding": {"text": {"field": "label"}}},
{"data": {"values": [{"x": 1, "y": 287, "label": "Year 1"}, {"x": 2, "y": 287, "label": "Year 2"}, {"x": 3, "y": 287, "label": "Year 3"}, {"x": 4, "y": 287, "label": "Year 4"}, {"x": 5, "y": 287, "label": "Year 5"}]}, "mark": {"type": "text", "align": "center", "baseline": "middle", "fontSize": 13}, "encoding": {"text": {"field": "label"}}},
{"data": {"values": [{"x": 5.499, "y": 338, "label": "Time"}]}, "mark": {"type": "text", "align": "left", "baseline": "middle", "fontSize": 13}, "encoding": {"text": {"field": "label"}}},
{"data": {"values": [{"x": 1.830, "y": 1125, "label": "“Cone of Uncertainty”"}, {"x": 1.830, "y": 1026.5, "label": "Risk increases over time"}]}, "mark": {"type": "text", "align": "center", "baseline": "alphabetic", "fontSize": 20}, "encoding": {"text": {"field": "label"}}},
{"data": {"values": [{"x": 5.995, "y": 712, "label": "Average"}, {"x": 5.995, "y": 654, "label": "value"}]}, "mark": {"type": "text", "align": "center", "baseline": "middle", "fontSize": 17}, "encoding": {"text": {"field": "label"}}}
]
}
